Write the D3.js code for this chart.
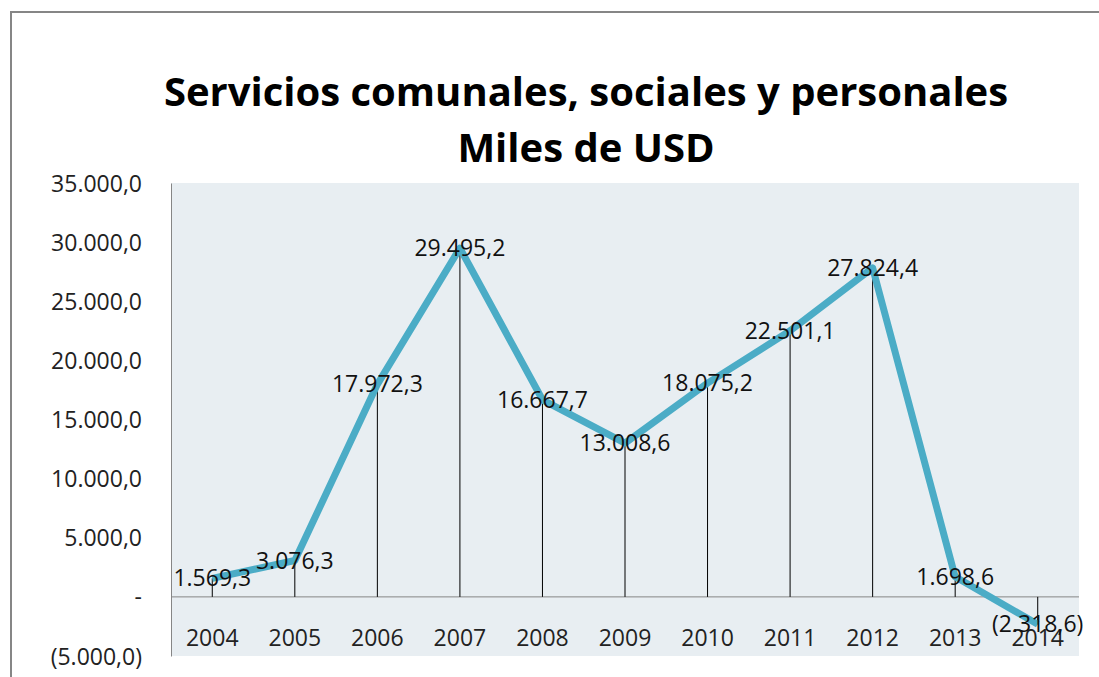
<!DOCTYPE html>
<html>
<head>
<meta charset="utf-8">
<script src="https://cdn.jsdelivr.net/npm/d3@7"></script>
<style>
  body { margin: 0; background: #fff; }
  text { font-family: "Open Sans", "Noto Sans", sans-serif; }
</style>
</head>
<body>
<div id="container"></div>
<script>
/* DATA */
const years = ["2004", "2005", "2006", "2007", "2008", "2009", "2010", "2011", "2012", "2013", "2014"]
const values = [1569.3, 3076.3, 17972.3, 29495.2, 16667.7, 13008.6, 18075.2, 22501.1, 27824.4, 1698.6, -2318.6]
const yTicks = [-5000, 0, 5000, 10000, 15000, 20000, 25000, 30000, 35000]
const titleLines = ["Servicios comunales, sociales y personales", "Miles de USD"]

/* CONSTANTS */
const W = 1099, H = 677
const plot = {left: 171, right: 1079, top: 183, bottom: 656}

const locale = d3.formatLocale({decimal: ",", thousands: ".", grouping: [3], currency: ["", ""]})
const f1 = locale.format(",.1f")
const fmt = v => v === 0 ? "-" : (v < 0 ? "(" + f1(-v) + ")" : f1(v))

const svg = d3.select("#container").append("svg")
  .attr("width", W).attr("height", H)

// chart border
svg.append("rect")
  .attr("x", 11).attr("y", 12)
  .attr("width", 1200).attr("height", 800)
  .attr("fill", "#fff")
  .attr("stroke", "#868686")
  .attr("stroke-width", 2)

// SCALES
const x = d3.scaleBand().domain(years).range([plot.left, plot.right])
const y = d3.scaleLinear().domain([-5000, 35000]).range([plot.bottom, plot.top])

// plot area
svg.append("rect")
  .attr("x", plot.left).attr("y", plot.top)
  .attr("width", plot.right - plot.left).attr("height", plot.bottom - plot.top)
  .attr("fill", "#E8EEF2")

// title
svg.selectAll(".title")
  .data(titleLines)
  .join("text")
    .attr("class", "title")
    .attr("x", 586)
    .attr("y", (d, i) => 106 + i * 56)
    .attr("text-anchor", "middle")
    .style("font-size", "40px")
    .style("font-weight", "bold")
    .style("fill", "#000")
    .text(d => d)

// y axis
const yAxis = svg.append("g")
  .attr("transform", "translate(" + plot.left + ",0)")
  .call(d3.axisLeft(y).tickValues(yTicks).tickFormat(fmt).tickSize(0).tickPadding(29))
yAxis.select(".domain").attr("stroke", "#868686")
yAxis.selectAll("text")
  .style("font-size", "23px")
  .style("fill", "#222")
  .attr("dy", "0.35em")

// zero line
svg.append("line")
  .attr("x1", plot.left).attr("x2", plot.right)
  .attr("y1", y(0)).attr("y2", y(0))
  .attr("stroke", "#868686").attr("stroke-width", 1)

// category labels
svg.selectAll(".cat")
  .data(years)
  .join("text")
    .attr("class", "cat")
    .attr("x", d => x(d) + x.bandwidth() / 2)
    .attr("y", y(0) + 49)
    .attr("text-anchor", "middle")
    .style("font-size", "23px")
    .style("fill", "#222")
    .text(d => d)

const pts = years.map((yr, i) => ({year: yr, v: values[i]}))

// drop lines
svg.selectAll(".drop")
  .data(pts)
  .join("line")
    .attr("class", "drop")
    .attr("x1", d => x(d.year) + x.bandwidth() / 2)
    .attr("x2", d => x(d.year) + x.bandwidth() / 2)
    .attr("y1", y(0))
    .attr("y2", d => y(d.v))
    .attr("stroke", "#000").attr("stroke-width", 1)

// line
const line = d3.line()
  .x(d => x(d.year) + x.bandwidth() / 2)
  .y(d => y(d.v))

svg.append("path")
  .datum(pts)
  .attr("fill", "none")
  .attr("stroke", "#4BACC6")
  .attr("stroke-width", 7)
  .attr("stroke-linejoin", "round")
  .attr("d", line)

// data labels
svg.selectAll(".lbl")
  .data(pts)
  .join("text")
    .attr("class", "lbl")
    .attr("x", d => x(d.year) + x.bandwidth() / 2)
    .attr("y", d => y(d.v))
    .attr("dy", "0.35em")
    .attr("text-anchor", "middle")
    .style("font-size", "23px")
    .style("fill", "#111")
    .text(d => fmt(d.v))
</script>
</body>
</html>
